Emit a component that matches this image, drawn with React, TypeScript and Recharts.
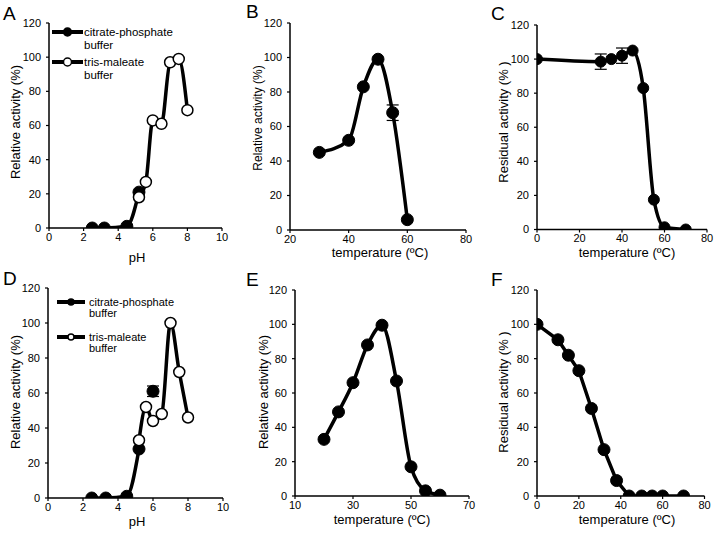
import React from 'react';
import { LineChart, Line, XAxis, YAxis, ErrorBar, Legend } from 'recharts';

const FONT = '"Liberation Sans", Arial, Helvetica, sans-serif';
const W = 715;
const H = 535;

// ---------- Data ----------
// Panel A (pH)
const phA_citrate = [2.5, 3.2, 4.5, 5.2];
const actA_citrate = [0, 0, 1, 21];
const phA_tris = [5.2, 5.6, 6.0, 6.5, 7.0, 7.5, 8.0];
const actA_tris = [18, 27, 63, 61, 97, 99, 69];

// Panel B (temperature, relative activity)
const tempB = [30, 40, 45, 50, 55, 60];
const actB = [45, 52, 83, 99, 68, 6];
const errB = [0, 0, 0, 0, 4.5, 0];

// Panel C (temperature, residual activity)
const tempC = [0, 30, 35, 40, 45, 50, 55, 60, 70];
const actC = [100, 98.5, 100, 102, 105, 83, 17.5, 1.3, 0];
const errC = [0, 4.5, 0, 4.5, 0, 0, 0, 0, 0];

// Panel D (pH)
const phD_citrate = [2.5, 3.3, 4.5, 5.2, 6.0];
const actD_citrate = [0, 0, 1, 28, 61];
const errD_citrate = [0, 0, 0, 0, 3];
const phD_tris = [5.2, 5.6, 6.0, 6.5, 7.0, 7.5, 8.0];
const actD_tris = [33, 52, 44, 48, 100, 72, 46];

// Panel E (temperature, relative activity)
const tempE = [20, 25, 30, 35, 40, 45, 50, 55, 60];
const actE = [33, 49, 66, 88, 99.5, 67, 17, 3, 0.5];

// Panel F (temperature, residual activity)
const tempF = [0, 10, 15, 20, 26, 32, 38, 44, 50, 55, 60, 70];
const actF = [100, 91, 82, 73, 51, 27, 9, 0, 0, 0, 0, 0];

// Axis ticks
const yTicks = [0, 20, 40, 60, 80, 100, 120];
const phTicks = [0, 2, 4, 6, 8, 10];
const tempTicksB = [20, 40, 60, 80];
const tempTicksC = [0, 20, 40, 60, 80];
const tempTicksE = [10, 30, 50, 70];

const legendLabels = [
  ['citrate-phosphate', 'buffer'],
  ['tris-maleate', 'buffer'],
];

const zip = (xs: number[], ys: number[], es?: number[]) =>
  xs.map((x, i) => ({ x, y: ys[i], err: es ? es[i] : 0 }));

type Cfg = {
  x0: number; x1: number; y0: number; y1: number;
  xDomain: [number, number]; xTicks: number[];
  xTitle: string; xTitleX: number; xTitleY: number;
  yTitle: string; yTitleX: number; yTitleY: number; yTitleSize?: number;
};

const tickStyle = { fontSize: 11, fill: '#000', fontFamily: FONT };

const filledDot = { r: 6, fill: '#000', stroke: '#000', strokeWidth: 1 };
const openDot = { r: 5.5, fill: '#fff', stroke: '#000', strokeWidth: 1.5 };

function panel(key: string, c: Cfg, lines: React.ReactNode[], legend?: React.ReactNode) {
  const yw = 45;
  const xh = 30;
  const margin = { left: c.x0 - yw, right: W - c.x1, top: c.y0, bottom: H - c.y1 - xh };
  return (
    <div key={key} style={{ position: 'absolute', left: 0, top: 0, width: W, height: H }}>
      <LineChart width={W} height={H} margin={margin}>
        <XAxis
          type="number"
          dataKey="x"
          domain={c.xDomain}
          ticks={c.xTicks}
          allowDataOverflow
          height={xh}
          stroke="#000"
          tickSize={3}
          tickMargin={2}
          tick={tickStyle}
          axisLine={{ stroke: '#000', strokeWidth: 1.5 }}
          tickLine={{ stroke: '#000', strokeWidth: 1.2 }}
          label={() => (
            <text x={c.xTitleX} y={c.xTitleY} textAnchor="middle" dominantBaseline="central"
              fontSize={13} fontFamily={FONT} fill="#000">{c.xTitle}</text>
          )}
        />
        <YAxis
          type="number"
          dataKey="y"
          domain={[0, 120]}
          ticks={yTicks}
          allowDataOverflow
          width={yw}
          stroke="#000"
          tickSize={3}
          tickMargin={5}
          tick={tickStyle}
          axisLine={{ stroke: '#000', strokeWidth: 1.5 }}
          tickLine={{ stroke: '#000', strokeWidth: 1.2 }}
          label={() => (
            <text x={c.yTitleX} y={c.yTitleY} textAnchor="middle" dominantBaseline="central"
              transform={`rotate(-90 ${c.yTitleX} ${c.yTitleY})`}
              fontSize={c.yTitleSize ?? 13} fontFamily={FONT} fill="#000">{c.yTitle}</text>
          )}
        />
        {lines}
        {legend}
      </LineChart>
    </div>
  );
}

function makeLegend(left: number, top: number, lineX0: number, lineX1: number, textX: number,
  rows: number[], gap: number, r: number, fontSize: number) {
  return (
    <Legend
      layout="vertical"
      align="center"
      verticalAlign="middle"
      wrapperStyle={{ left, top, width: 140, height: 80 }}
      content={() => (
        <svg width={140} height={80} style={{ display: 'block', overflow: 'visible' }}>
          {legendLabels.map((lab, i) => {
            const y = rows[i];
            const mx = (lineX0 + lineX1) / 2;
            return (
              <g key={i}>
                <line x1={lineX0} x2={lineX1} y1={y} y2={y} stroke="#000" strokeWidth={4} />
                <circle cx={mx} cy={y} r={r} fill={i === 0 ? '#000' : '#fff'} stroke="#000" strokeWidth={1.5} />
                <text x={textX} y={y} dominantBaseline="central" fontSize={fontSize} fontFamily={FONT} fill="#000">{lab[0]}</text>
                <text x={textX} y={y + gap} dominantBaseline="central" fontSize={fontSize} fontFamily={FONT} fill="#000">{lab[1]}</text>
              </g>
            );
          })}
        </svg>
      )}
    />
  );
}

const lineProps = {
  dataKey: 'y',
  stroke: '#000',
  strokeWidth: 3.5,
  isAnimationActive: false,
  activeDot: false as const,
  legendType: 'none' as const,
};

const letterStyle: React.CSSProperties = {
  position: 'absolute', fontFamily: FONT, fontSize: 19, color: '#000', lineHeight: '19px',
};

export default function App() {
  const aC = zip(phA_citrate, actA_citrate);
  const aT = zip(phA_tris, actA_tris);
  const bD = zip(tempB, actB, errB);
  const cD = zip(tempC, actC, errC);
  const dCall = zip(phD_citrate, actD_citrate, errD_citrate);
  const dC = dCall.slice(0, 4);
  const dLone = dCall.slice(4);
  const dT = zip(phD_tris, actD_tris);
  const eD = zip(tempE, actE);
  const fD = zip(tempF, actF);

  return (
    <div style={{ position: 'absolute', left: 0, top: 0, width: W, height: H, background: '#fff', overflow: 'hidden' }}>
      {panel('A', {
        x0: 49, x1: 222, y0: 23, y1: 228, xDomain: [0, 10], xTicks: phTicks,
        xTitle: 'pH', xTitleX: 137, xTitleY: 257,
        yTitle: 'Relative activity (%)', yTitleX: 15, yTitleY: 122,
      }, [
        <Line key="ac" {...lineProps} data={aC} type="monotone" dot={filledDot} />,
        <Line key="at" {...lineProps} data={aT} type="monotone" dot={openDot} />,
      ], makeLegend(50, 18, 2, 33, 34, [14, 44], 13, 4, 11.5))}

      {panel('B', {
        x0: 290, x1: 466, y0: 23, y1: 230, xDomain: [20, 80], xTicks: tempTicksB,
        xTitle: 'temperature (ºC)', xTitleX: 380, xTitleY: 252,
        yTitle: 'Relative activity (%)', yTitleX: 258, yTitleY: 118, yTitleSize: 12,
      }, [
        <Line key="b" {...lineProps} data={bD} type="monotone" dot={filledDot}>
          <ErrorBar dataKey="err" width={6} stroke="#000" strokeWidth={1.2} direction="y" />
        </Line>,
      ])}

      {panel('C', {
        x0: 537, x1: 707, y0: 25, y1: 229.5, xDomain: [0, 80], xTicks: tempTicksC,
        xTitle: 'temperature (ºC)', xTitleX: 627, xTitleY: 252,
        yTitle: 'Residual activity (% )', yTitleX: 503, yTitleY: 122,
      }, [
        <Line key="c" {...lineProps} data={cD} type="monotone" dot={{ ...filledDot, r: 5.5 }}>
          <ErrorBar dataKey="err" width={6} stroke="#000" strokeWidth={1.2} direction="y" />
        </Line>,
      ])}

      {panel('D', {
        x0: 48, x1: 223, y0: 288, y1: 498, xDomain: [0, 10], xTicks: phTicks,
        xTitle: 'pH', xTitleX: 137, xTitleY: 521,
        yTitle: 'Relative activity (%)', yTitleX: 15, yTitleY: 392,
      }, [
        <Line key="dc" {...lineProps} data={dC} type="monotone" dot={filledDot} />,
        <Line key="dl" {...lineProps} data={dLone} type="monotone" dot={filledDot}>
          <ErrorBar dataKey="err" width={6} stroke="#000" strokeWidth={1.2} direction="y" />
        </Line>,
        <Line key="dt" {...lineProps} data={dT} type="monotone" dot={openDot} />,
      ], makeLegend(50, 285, 7, 35, 39, [17, 52], 11, 3, 11))}

      {panel('E', {
        x0: 295, x1: 469, y0: 290, y1: 496, xDomain: [10, 70], xTicks: tempTicksE,
        xTitle: 'temperature (ºC)', xTitleX: 382, xTitleY: 519,
        yTitle: 'Relative activity (%)', yTitleX: 263, yTitleY: 392,
      }, [
        <Line key="e" {...lineProps} data={eD} type="monotone" dot={filledDot} />,
      ])}

      {panel('F', {
        x0: 537, x1: 704.5, y0: 290, y1: 496, xDomain: [0, 80], xTicks: tempTicksC,
        xTitle: 'temperature (ºC)', xTitleX: 627, xTitleY: 519,
        yTitle: 'Residual activity (% )', yTitleX: 503, yTitleY: 392,
      }, [
        <Line key="f" {...lineProps} data={fD} type="linear" dot={filledDot} />,
      ])}

      <div style={{ ...letterStyle, left: 3, top: 4 }}>A</div>
      <div style={{ ...letterStyle, left: 246, top: 2 }}>B</div>
      <div style={{ ...letterStyle, left: 491, top: 4 }}>C</div>
      <div style={{ ...letterStyle, left: 3, top: 269 }}>D</div>
      <div style={{ ...letterStyle, left: 246, top: 270 }}>E</div>
      <div style={{ ...letterStyle, left: 491, top: 270 }}>F</div>
    </div>
  );
}
